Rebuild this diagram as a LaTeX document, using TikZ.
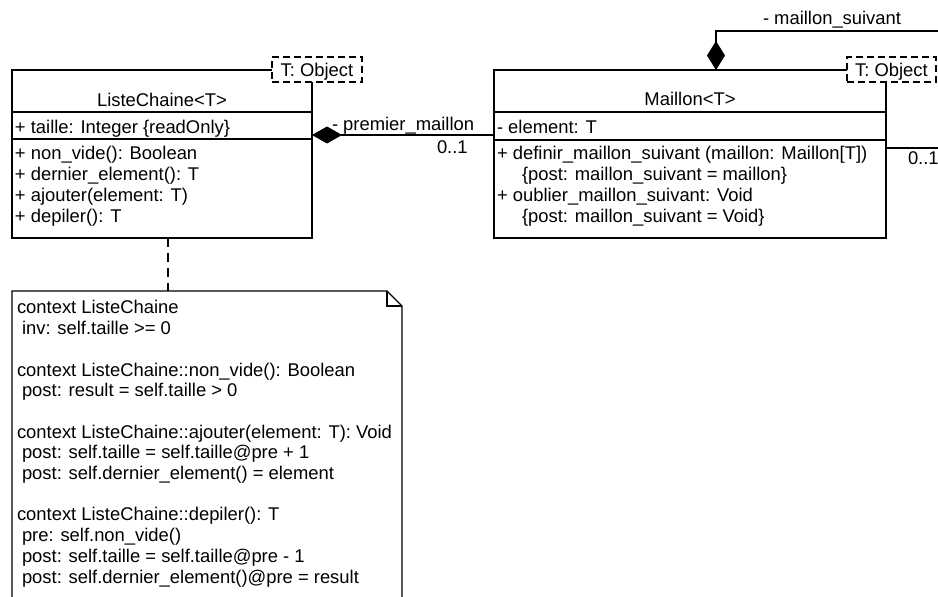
\documentclass[tikz,border=0pt]{standalone}
\usepackage{fontspec}
\setmainfont{Liberation Sans}
\usetikzlibrary{arrows.meta}
\begin{document}
\begin{tikzpicture}[x=1pt, y=-1pt,
  font=\fontsize{18.4}{20.7}\selectfont,
  line width=1.3pt,
  classbox/.style={draw, fill=white, inner sep=0pt, outer sep=0pt, anchor=north west},
  tparam/.style={draw, dash pattern=on 7pt off 4pt, fill=white, inner sep=0pt, outer sep=0pt,
    anchor=north west, minimum height=25pt},
  txt/.style={inner sep=0pt, outer sep=0pt, anchor=base west, align=left},
  ctitle/.style={inner sep=0pt, outer sep=0pt, anchor=base},
  comp/.style={{Diamond[length=30pt, width=17pt, fill=black]}-},
  compv/.style={{Diamond[length=29pt, width=18pt, fill=black]}-},
  notedash/.style={dash pattern=on 9pt off 6pt},
]
\useasboundingbox (0,0) rectangle (938,597);
\clip (0,0) rectangle (938,597);

% ---- class ListeChaine<T> ----
\node[classbox, minimum width=300pt, minimum height=168pt] (lc) at (12,70) {};
\draw ([yshift=-42pt]lc.north west) -- ([yshift=-42pt]lc.north east);
\draw ([yshift=-69pt]lc.north west) -- ([yshift=-69pt]lc.north east);
\node[tparam, minimum width=90pt] (lct) at (272,57) {};
\node[inner sep=0pt, anchor=base] (lctl) at (317,76.5) {T: Object};
\node[ctitle] (lcname) at (162,106) {ListeChaine<T>};
\node[txt] (lcattr) at (15,133) {+ taille: Integer \{readOnly\}};
% multi-line nodes: the base anchor sits on the last line
\node[txt] (lcops) at (15,222) {+ non\_vide(): Boolean\\
  + dernier\_element(): T\\
  + ajouter(element: T)\\
  + depiler(): T};

% ---- class Maillon<T> ----
\node[classbox, minimum width=392pt, minimum height=168pt] (m) at (494,70) {};
\draw ([yshift=-42pt]m.north west) -- ([yshift=-42pt]m.north east);
\draw ([yshift=-70pt]m.north west) -- ([yshift=-70pt]m.north east);
\node[tparam, minimum width=89pt] (mt) at (847,57) {};
\node[inner sep=0pt, anchor=base] (mtl) at (891.5,76.5) {T: Object};
\node[ctitle] (mname) at (690,105) {Maillon<T>};
\node[txt] (mattr) at (497,133) {- element: T};
\node[txt] (mops) at (497,222) {+ definir\_maillon\_suivant (maillon: Maillon[T])\\
  \hspace*{25pt}\{post: maillon\_suivant = maillon\}\\
  + oublier\_maillon\_suivant: Void\\
  \hspace*{25pt}\{post: maillon\_suivant = Void\}};

% ---- composition ListeChaine -> Maillon ----
\draw[comp] (lc.east |- 0,135) -- (m.west |- 0,135);
\node[txt] (pmlabel) at (332,130) {- premier\_maillon};
\node[txt] (pmmult) at (437,153) {0..1};

% ---- self composition on Maillon ----
\coordinate (sbend) at (716,31);
\coordinate (sout) at (950,31);
\coordinate (sback) at (950,148);
\draw[compv] (m.north -| sbend) -- (sbend) -- (sout);
\draw (m.east |- sback) -- (sback);
\node[txt] (mslabel) at (763,24) {- maillon\_suivant};
\node[txt] (msmult) at (908,164) {0..1};

% ---- OCL note ----
\node[inner sep=0pt, outer sep=0pt, anchor=north west, minimum width=390pt, minimum height=330pt] (note) at (12,291) {};
\draw (note.south west) -- (note.north west) -- ([xshift=-15pt]note.north east)
  -- ([yshift=-15pt]note.north east) -- (note.south east);
\draw ([xshift=-15pt]note.north east) -- ([xshift=-15pt,yshift=-15pt]note.north east)
  -- ([yshift=-15pt]note.north east);
\node[txt] (notetext) at (17,583) {context ListeChaine\\
  \hspace*{5pt}inv: self.taille >= 0\\[20.7pt]
  context ListeChaine::non\_vide(): Boolean\\
  \hspace*{5pt}post: result = self.taille > 0\\[20.7pt]
  context ListeChaine::ajouter(element: T): Void\\
  \hspace*{5pt}post: self.taille = self.taille@pre + 1\\
  \hspace*{5pt}post: self.dernier\_element() = element\\[20.7pt]
  context ListeChaine::depiler(): T\\
  \hspace*{5pt}pre: self.non\_vide()\\
  \hspace*{5pt}post: self.taille = self.taille@pre - 1\\
  \hspace*{5pt}post: self.dernier\_element()@pre = result};
\draw[notedash] (lc.south -| 168,0) -- (note.north -| 168,0);
\end{tikzpicture}
\end{document}
